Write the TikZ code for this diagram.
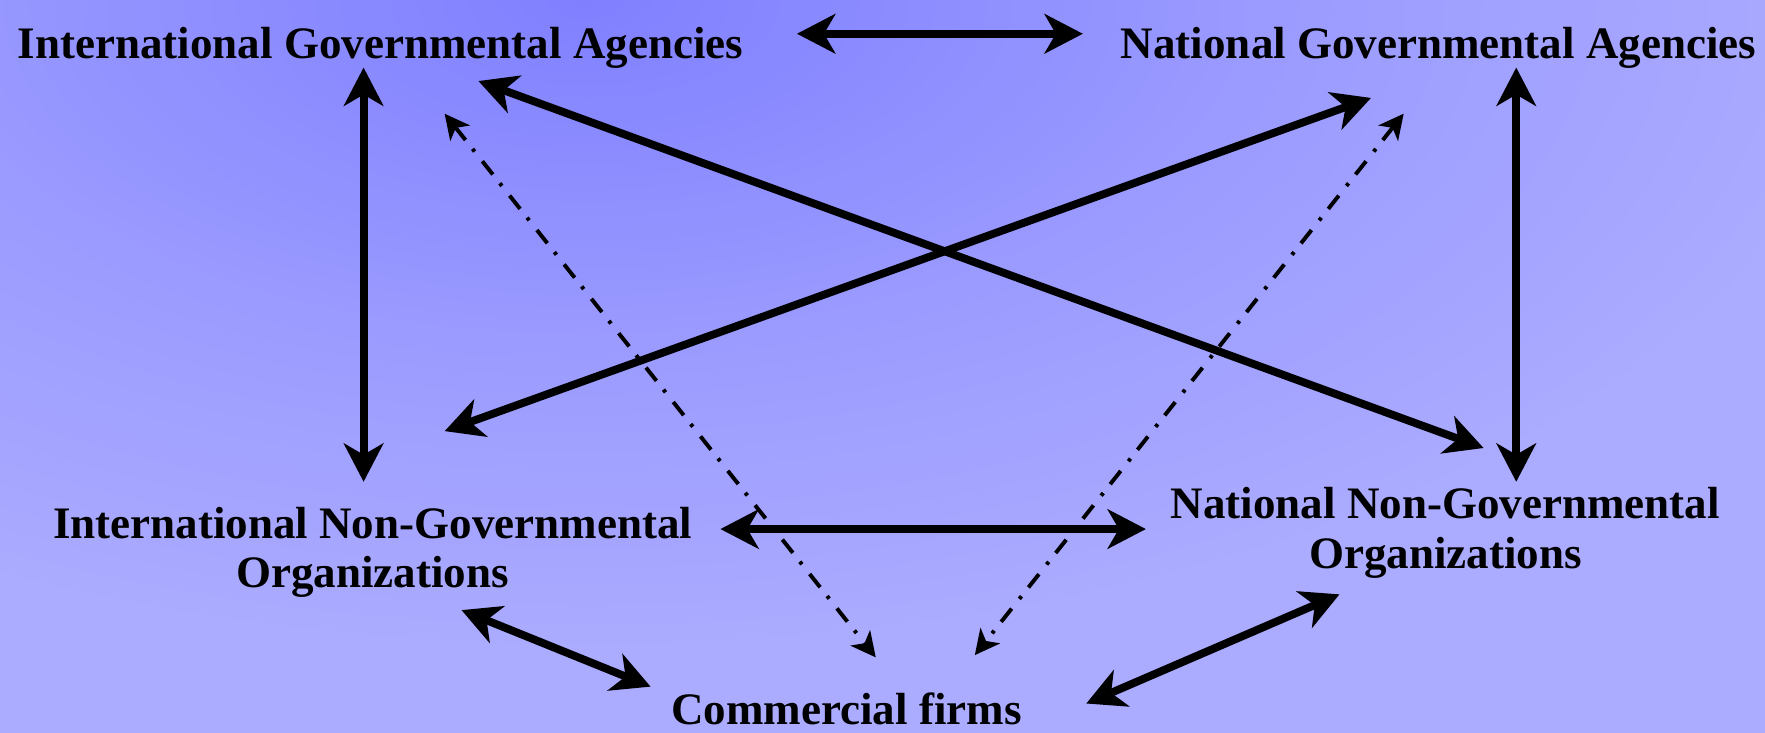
\documentclass[tikz,border=0pt]{standalone}
\usepackage{fontspec}
\setmainfont{Liberation Serif}
\usetikzlibrary{arrows.meta}
\definecolor{bgA}{RGB}{128,128,255}
\definecolor{bgB}{RGB}{156,156,255}
\definecolor{bgC}{RGB}{171,171,255}
\pgfdeclareradialshading{bgshade}{\pgfpoint{0bp}{0bp}}{color(0bp)=(bgA); color(14bp)=(bgB); color(25bp)=(bgC); color(50bp)=(bgC)}
\begin{document}
\begin{tikzpicture}[x=1pt,y=-1pt,
  lbl/.style={font=\fontsize{40}{44}\selectfont\bfseries, inner sep=0pt, align=center, anchor=base},
  solidlink/.style={line width=7pt, {Stealth[length=34pt,width=35pt,inset=10pt]}-{Stealth[length=34pt,width=35pt,inset=10pt]}},
  dotlink/.style={line width=3.5pt, dash pattern=on 15pt off 10pt on 3pt off 11pt, {Stealth[length=22pt,width=22pt,inset=6pt]}-{Stealth[length=22pt,width=22pt,inset=6pt]}}]
% background
\fill[bgC] (0,0) rectangle (1568,651);
\begin{scope}
\clip (0,0) rectangle (1568,651);
\shade[shading=bgshade] (520,0) ellipse [x radius=1150, y radius=580];
\end{scope}
\useasboundingbox (0,0) rectangle (1568,651);
% labels
\node[lbl] (iga) at (338,52) {International Governmental Agencies};
\node[lbl] (nga) at (1278,52) {National Governmental Agencies};
\node[lbl] (ingo) at (331,522) {International Non-Governmental\\Organizations};
\node[lbl] (nngo) at (1284,505) {National Non-Governmental\\Organizations};
\node[lbl] (cf) at (752,644) {Commercial firms};
% connector ends
\coordinate (igaE) at (708,30);
\coordinate (ngaW) at (962,30);
\coordinate (igaS) at (323,60);
\coordinate (ingoN) at (323,428);
\coordinate (ngaS) at (1347,60);
\coordinate (nngoN) at (1347,428);
\coordinate (igaSE) at (425,72);
\coordinate (nngoNW) at (1318,398);
\coordinate (ngaSW) at (1218,87);
\coordinate (ingoNE) at (395,383);
\coordinate (ingoE) at (640,470);
\coordinate (nngoW) at (1018,470);
\coordinate (ingoSE) at (410,542);
\coordinate (cfNW) at (578,610);
\coordinate (nngoSW) at (1190,528);
\coordinate (cfNE) at (965,625);
\coordinate (igaD) at (395,101);
\coordinate (cfD1) at (778,584);
\coordinate (ngaD) at (1247,101);
\coordinate (cfD2) at (866,582);
% connectors
\draw[solidlink] (igaE) -- (ngaW);
\draw[solidlink] (igaS) -- (ingoN);
\draw[solidlink] (ngaS) -- (nngoN);
\draw[solidlink] (igaSE) -- (nngoNW);
\draw[solidlink] (ngaSW) -- (ingoNE);
\draw[solidlink] (ingoE) -- (nngoW);
\draw[solidlink] (ingoSE) -- (cfNW);
\draw[solidlink] (nngoSW) -- (cfNE);
\draw[dotlink] (igaD) -- (cfD1);
\draw[dotlink] (ngaD) -- (cfD2);
\end{tikzpicture}
\end{document}
